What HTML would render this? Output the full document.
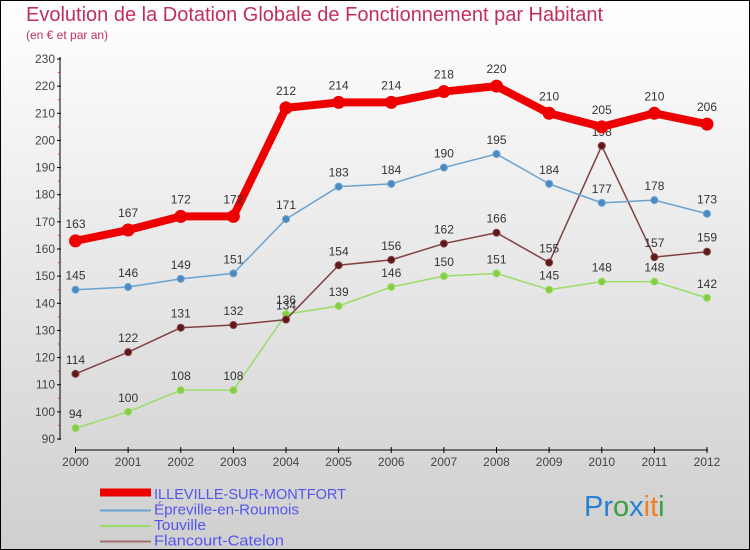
<!DOCTYPE html>
<html><head><meta charset="utf-8"><style>
html,body{margin:0;padding:0}
body{width:750px;height:550px;overflow:hidden;font-family:"Liberation Sans",sans-serif}
svg{display:block}
</style></head><body>
<svg id="c" width="750" height="550" xmlns="http://www.w3.org/2000/svg">
<defs><linearGradient id="bg" x1="0" y1="0" x2="0" y2="1"><stop offset="0" stop-color="#ffffff"/><stop offset="1" stop-color="#cfcfcf"/></linearGradient></defs>
<rect x="0.5" y="0.5" width="749" height="549" fill="url(#bg)" stroke="#000"/>
<text x="26" y="21" font-size="20" fill="#c0305a">Evolution de la Dotation Globale de Fonctionnement par Habitant</text>
<text x="26" y="39" font-size="12" fill="#c0305a">(en € et par an)</text>
<g id="axes"></g>
<g id="series"></g>
<g id="legend"></g>
<text x="584" y="516" font-size="29"><tspan fill="#2a7fd0">Pr</tspan><tspan fill="#3aa040">o</tspan><tspan fill="#2a7fd0">x</tspan><tspan fill="#f08020">it</tspan><tspan fill="#3aa040">i</tspan></text>
</svg>
<script>
const years=[2000,2001,2002,2003,2004,2005,2006,2007,2008,2009,2010,2011,2012];
const yTicks=[90,100,110,120,130,140,150,160,170,180,190,200,210,220,230];
const sIlleville=[163,167,172,172,212,214,214,218,220,210,205,210,206];
const sEpreville=[145,146,149,151,171,183,184,190,195,184,177,178,173];
const sTouville=[94,100,108,108,136,139,146,150,151,145,148,148,142];
const sFlancourt=[114,122,131,132,134,154,156,162,166,155,198,157,159];
const NS="http://www.w3.org/2000/svg";
const X=i=>75.5+i*(707-75.5)/12;
const Y=v=>439-(v-90)*380/140;
function mk(t,a,p){const e=document.createElementNS(NS,t);for(const k in a)e.setAttribute(k,a[k]);p.appendChild(e);return e;}
const ax=document.getElementById('axes');
let e=mk('line',{x1:60,y1:57,x2:60,y2:440,stroke:'#000'},ax);


e=mk('line',{x1:75,y1:450,x2:708,y2:450,stroke:'#000'},ax);


yTicks.forEach(v=>{
 mk('line',{x1:57,y1:Y(v),x2:61,y2:Y(v),stroke:'#000'},ax);
 if(v<230) mk('line',{x1:58,y1:Y(v+5),x2:60,y2:Y(v+5),stroke:'#e03030'},ax);
 const t=mk('text',{x:55,y:Y(v)+4,'font-size':12,fill:'#444','text-anchor':'end'},ax);t.textContent=v;
 
 
});
years.forEach((y,i)=>{
 mk('line',{x1:X(i),y1:447,x2:X(i),y2:453,stroke:'#000'},ax);
 const t=mk('text',{x:X(i),y:466,'font-size':12,fill:'#444','text-anchor':'middle'},ax);t.textContent=y;
 
 
});
const sg=document.getElementById('series');
function series(vals,col,w,r,dot,name,lblOff){
 const g=mk('g',{},sg);
 
 
 mk('polyline',{points:vals.map((v,i)=>X(i)+','+Y(v)).join(' '),fill:'none',stroke:col,'stroke-width':w,'stroke-linejoin':'round'},g);
 vals.forEach((v,i)=>{
  const c=mk('circle',{cx:X(i),cy:Y(v),r:r,fill:dot,stroke:col,'stroke-width':1},g);
  
  
  const t=mk('text',{x:X(i),y:Y(v)+lblOff,'font-size':12,fill:'#333','text-anchor':'middle'},g);t.textContent=v;
  
  
 });
}
series(sTouville,'#99dd66',1.5,3.5,'#88cc44','series-touville',-10);
series(sFlancourt,'#804040',1.5,3.5,'#601818','series-flancourt',-10);
series(sEpreville,'#6aa2d0',1.5,3.5,'#4a8ac0','series-epreville',-10);
series(sIlleville,'#ee0000',8,6,'#ee0000','series-illeville',-13);
const lg=document.getElementById('legend');
const legNames=['ILLEVILLE-SUR-MONTFORT','Épreville-en-Roumois','Touville','Flancourt-Catelon'];
const legCols=['#ee0000','#6aa2d0','#99dd66','#a07070'];
const legW=[8,2,2,2];
const legLen=[192,145,52,130];
legNames.forEach((n,i)=>{
 const yy=493+i*15.5;
 const g=mk('g',{},lg);
 
 
 mk('line',{x1:100,y1:yy+(i?2:-0.5),x2:151,y2:yy+(i?2:-0.5),stroke:legCols[i],'stroke-width':legW[i]},g);
 const t=mk('text',{x:154,y:yy+6,'font-size':15,fill:'#5555ee',textLength:legLen[i],lengthAdjust:'spacingAndGlyphs'},g);t.textContent=n;
});
</script>
</body></html>
